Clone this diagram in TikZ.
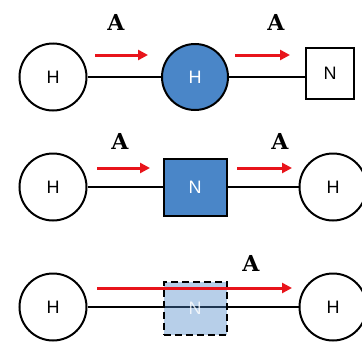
\documentclass[tikz,border=0pt]{standalone}
\usepackage{fontspec}
\setmainfont{Liberation Sans}
\newfontfamily\tagfont{DejaVu Serif}
\usetikzlibrary{arrows.meta}
\definecolor{nodeblue}{HTML}{4A86C8}
\definecolor{arrowred}{HTML}{E8141B}
\tikzset{
    every node/.style={draw, line width=2pt, font=\fontsize{18}{18}\selectfont}
}
\tikzset{
    host/.style={circle, minimum size=67pt, inner sep=0pt},
    nat/.style={rectangle, minimum width=48pt, minimum height=51pt, inner sep=0pt},
    hit/.style={fill=nodeblue, text=white},
    wire/.style={line width=1.6pt},
    flow/.style={arrowred, line width=3pt, -{Triangle[length=10pt,width=10pt]}},
    tag/.style={draw=none, inner sep=0pt, font=\tagfont\bfseries\fontsize{22}{22}\selectfont}
}

\begin{document}
\begin{tikzpicture}[x=1pt, y=-1pt]
	\useasboundingbox (0,0) rectangle (362,343);
	% first row: host, blue host, box
	\node (h1) [host] at (53,77) {H};
	\node (h2) [host, hit, minimum size=66pt] at (195,77) {H};
	\node (n1) [nat] at (330,73) {N};
	\draw[wire] (h1) -- (h2);
	\draw[wire] (h2) -- (n1.west |- h2);
	
	% second row: host, blue box, host
	\node (h3) [host] at (53,187) {H};
	\node (n2) [nat, hit, minimum width=63pt, minimum height=57pt] at (195,187) {N};
	\node (h4) [host] at (333,187) {H};
	\draw[wire] (h3) -- (n2); \draw[wire] (n2) -- (h4);
	
	% third row: host, faded box, host
	\node (h5) [host] at (53,307) {H};
	\node (h6) [host] at (333,307) {H};
	\draw[wire] (h5) -- (h6);
	\node (n3) [nat, dash pattern=on 7pt off 4pt, fill=nodeblue, fill opacity=0.4,
		text opacity=0.8, text=white, minimum width=63pt, minimum height=53pt] at (195,308) {N};
	
	% red arrows with their labels
	\coordinate (a1) at (95,55); \coordinate (b1) at (148,55);
	\coordinate (a2) at (235,55); \coordinate (b2) at (290,55);
	\coordinate (a3) at (97,168); \coordinate (b3) at (150,168);
	\coordinate (a4) at (237,168); \coordinate (b4) at (292,168);
	\coordinate (a5) at (97,288); \coordinate (b5) at (292,288);
	\draw[flow] (a1) -- (b1); \draw[flow] (a2) -- (b2);
	\draw[flow] (a3) -- (b3); \draw[flow] (a4) -- (b4);
	\draw[flow] (a5) -- (b5);
	\node (t1) [tag] at (116,22) {A};
	\node (t2) [tag] at (276,22) {A};
	\node (t3) [tag] at (120,141) {A};
	\node (t4) [tag] at (280,141) {A};
	\node (t5) [tag] at (251,263) {A};
\end{tikzpicture}
\end{document}
